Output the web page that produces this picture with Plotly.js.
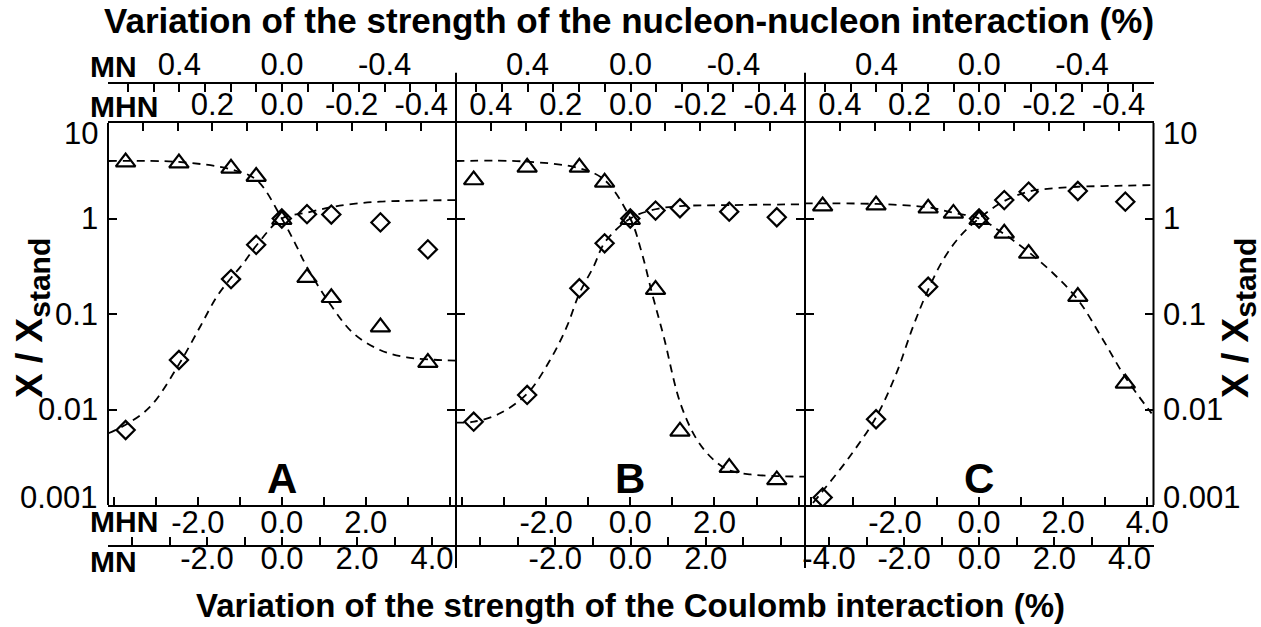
<!DOCTYPE html>
<html>
<head>
<meta charset="utf-8">
<script src="https://cdn.plot.ly/plotly-3.0.1.min.js"></script>
<style>html,body{margin:0;padding:0;background:#fff;}#chart{width:1261px;height:627px;}</style>
</head>
<body>
<div id="chart"></div>
<script>
// ---------------- DATA ----------------
// x positions of computed points, in units of the bottom "MHN" Coulomb axis (%)
const xPts = [-3.72, -2.45, -1.21, -0.61, 0, 0.6, 1.18, 2.35, 3.48];

// Panel A
const triA = [3.9, 3.8, 3.35, 2.75, 0.97, 0.24, 0.148, 0.073, 0.031];
const diaA = [0.0061, 0.033, 0.232, 0.53, 1.0, 1.11, 1.1, 0.91, 0.475];
const fitTriAx = [-4.13, -2.46, -1.21, -0.6, 0, 0.317, 0.595, 1.167, 1.705, 2.34, 2.976, 4.15];
const fitTriAy = [4.0, 3.91, 3.27, 2.53, 1.0, 0.55, 0.313, 0.124, 0.0628, 0.042, 0.0352, 0.0325];
const fitDiaAx = [-4.13, -3.73, -3.136, -2.46, -1.945, -1.548, -1.214, -0.914, -0.595, 0, 0.595, 1.167, 1.705, 2.34, 4.15];
const fitDiaAy = [0.00564, 0.00689, 0.0107, 0.0292, 0.0736, 0.152, 0.237, 0.34, 0.528, 1.0, 1.15, 1.31, 1.42, 1.5, 1.56];

// Panel B
const triB = [2.53, 3.43, 3.43, 2.39, 0.97, 0.18, 0.0059, 0.00246, 0.00183];
const diaB = [0.00745, 0.0142, 0.186, 0.55, 1.0, 1.21, 1.28, 1.18, 1.03];
const fitTriBx = [-4.14, -2.44, -1.2, -0.61, 0, 0.278, 0.516, 0.794, 1.19, 1.587, 1.984, 2.34, 2.857, 3.49, 4.14];
const fitTriBy = [4.0, 3.94, 3.35, 2.53, 1.0, 0.43, 0.165, 0.058, 0.0116, 0.0048, 0.00296, 0.00232, 0.00209, 0.00201, 0.00198];
const fitDiaBx = [-4.14, -3.71, -3.095, -2.44, -1.905, -1.508, -1.207, -0.873, -0.595, 0, 0.595, 1.19, 2.34, 4.14];
const fitDiaBy = [0.00728, 0.00745, 0.00912, 0.0148, 0.033, 0.0736, 0.165, 0.313, 0.571, 1.0, 1.25, 1.35, 1.38, 1.41];

// Panel C
const triC = [1.35, 1.38, 1.28, 1.13, 0.97, 0.70, 0.43, 0.152, 0.0188];
const xDiaC = [-3.72, -2.45, -1.21, 0, 0.6, 1.18, 2.35, 3.48];
const diaC = [0.0012, 0.0079, 0.193, 1.0, 1.56, 1.91, 1.94, 1.5];
const fitTriCx = [-4.15, -3.73, -2.44, -1.214, -0.62, 0, 0.571, 1.167, 1.762, 2.357, 2.952, 3.469, 4.105];
const fitTriCy = [1.44, 1.44, 1.42, 1.31, 1.15, 1.0, 0.70, 0.45, 0.267, 0.140, 0.0535, 0.0221, 0.0091];
const fitDiaCx = [-3.95, -3.73, -3.079, -2.443, -1.967, -1.571, -1.214, -0.857, -0.46, 0, 0.571, 1.167, 1.762, 2.357, 3.27, 4.15];
const fitDiaCy = [0.00105, 0.00138, 0.0032, 0.0084, 0.0239, 0.0736, 0.178, 0.367, 0.645, 1.0, 1.5, 1.91, 2.07, 2.15, 2.2, 2.24];

// Tick labels
const yTickVals = [0.001, 0.01, 0.1, 1, 10];
const yTickText = ['0.001', '0.01', '0.1', '1', '10'];
const botTickVals = [-4, -3, -2, -1, 0, 1, 2, 3, 4];
const mhnBotText = {
  A: ['', '', '-2.0', '', '0.0', '', '2.0', '', ''],
  B: ['', '', '-2.0', '', '0.0', '', '2.0', '', ''],
  C: ['', '', '-2.0', '', '0.0', '', '2.0', '', '4.0']
};
const mnBotText = {
  A: ['', '', '-2.0', '', '0.0', '', '2.0', '', '4.0'],
  B: ['', '', '-2.0', '', '0.0', '', '2.0', '', ''],
  C: ['-4.0', '', '-2.0', '', '0.0', '', '2.0', '', '4.0']
};
const mhnTopVals = [0.5, 0.4, 0.3, 0.2, 0.1, 0, -0.1, -0.2, -0.3, -0.4, -0.5];
const mhnTopText = {
  A: ['', '', '', '0.2', '', '0.0', '', '-0.2', '', '-0.4', ''],
  B: ['', '0.4', '', '0.2', '', '0.0', '', '-0.2', '', '-0.4', ''],
  C: ['', '0.4', '', '0.2', '', '0.0', '', '-0.2', '', '-0.4', '']
};
const mnTopVals = [0.6, 0.5, 0.4, 0.3, 0.2, 0.1, 0, -0.1, -0.2, -0.3, -0.4, -0.5, -0.6];
const mnTopText = ['', '', '0.4', '', '', '', '0.0', '', '', '', '-0.4', '', ''];

// ---------------- LAYOUT ----------------
const W = 1261, H = 627;
const px = v => v / W;
const py = v => (H - v) / H;
const FONT = 'Liberation Sans, Arial, Helvetica, sans-serif';
const TF = {family: FONT, size: 31, color: '#000'};

const panels = [
  {key: 'A', dom: [px(108), px(456)], ids: [1, 2, 3, 4], y: 1},
  {key: 'B', dom: [px(456), px(805)], ids: [5, 6, 7, 8], y: 2},
  {key: 'C', dom: [px(805), px(1153.5)], ids: [9, 10, 11, 12], y: 3}
];
const yDom = [py(505), py(123)];

const layout = {
  width: W, height: H,
  margin: {l: 0, r: 0, t: 0, b: 0},
  paper_bgcolor: '#fff', plot_bgcolor: 'rgba(0,0,0,0)',
  showlegend: false,
  font: {family: FONT, color: '#000'},
  annotations: [], shapes: []
};
const axName = (c, i) => c + 'axis' + (i === 1 ? '' : i);
const axRef = (c, i) => c + (i === 1 ? '' : i);
const baseX = {
  showgrid: false, zeroline: false, showline: true, linecolor: '#000', linewidth: 2,
  ticks: 'inside', ticklen: 8, tickwidth: 2, tickcolor: '#000', tickfont: TF,
  tickmode: 'array', autorange: false, fixedrange: true
};

panels.forEach(p => {
  const [i1, i2, i3, i4] = p.ids;
  const yr = axRef('y', p.y);
  layout[axName('x', i1)] = Object.assign({}, baseX, {
    domain: p.dom, anchor: yr, side: 'bottom', range: [-4.14, 4.15],
    tickvals: botTickVals, ticktext: mhnBotText[p.key], ticklabelstandoff: -11
  });
  layout[axName('x', i2)] = Object.assign({}, baseX, {
    domain: p.dom, overlaying: axRef('x', i1), anchor: 'free', position: py(546), side: 'bottom',
    range: [-4.64, 4.64], tickvals: botTickVals, ticktext: mnBotText[p.key], ticklabelstandoff: -15
  });
  layout[axName('x', i3)] = Object.assign({}, baseX, {
    domain: p.dom, overlaying: axRef('x', i1), anchor: yr, side: 'top',
    range: [0.5, -0.5], tickvals: mhnTopVals, ticktext: mhnTopText[p.key], ticklabelstandoff: -6
  });
  layout[axName('x', i4)] = Object.assign({}, baseX, {
    domain: p.dom, overlaying: axRef('x', i1), anchor: 'free', position: py(82.7), side: 'top',
    range: [0.678, -0.678], tickvals: mnTopVals, ticktext: mnTopText, ticklabelstandoff: -6
  });
  layout[axName('y', p.y)] = {
    domain: yDom, anchor: axRef('x', i1), type: 'log', range: [-3, 1], autorange: false,
    showgrid: false, zeroline: false, showline: false,
    mirror: 'ticks', ticks: 'inside', ticklen: 9, tickwidth: 2, tickcolor: '#000',
    tickmode: 'array', tickvals: yTickVals, ticktext: yTickText, tickfont: TF,
    showticklabels: false, side: p.key === 'C' ? 'right' : 'left', fixedrange: true
  };
});

// ---------------- TRACES ----------------
const traces = [];
const dashLine = {color: '#000', width: 1.8, dash: '8px,6px', shape: 'spline', smoothing: 1};
function addPanel(p, tri, xDia, dia, ftx, fty, fdx, fdy) {
  const xr = axRef('x', p.ids[0]), yr = axRef('y', p.y);
  traces.push({x: ftx, y: fty, xaxis: xr, yaxis: yr, mode: 'lines', line: dashLine, hoverinfo: 'skip'});
  traces.push({x: fdx, y: fdy, xaxis: xr, yaxis: yr, mode: 'lines', line: dashLine, hoverinfo: 'skip'});
  traces.push({x: xPts, y: tri, xaxis: xr, yaxis: yr, mode: 'markers',
    marker: {symbol: 'triangle-up-open', size: 17, color: '#000', line: {width: 2.2, color: '#000'}}});
  traces.push({x: xDia, y: dia, xaxis: xr, yaxis: yr, mode: 'markers',
    marker: {symbol: 'diamond-open', size: 14, color: '#000', line: {width: 2.2, color: '#000'}}});
  [2, 3, 4].forEach(k => {
    traces.push({x: [null], y: [null], xaxis: axRef('x', p.ids[k - 1]), yaxis: yr, mode: 'markers', hoverinfo: 'skip'});
  });
}
addPanel(panels[0], triA, xPts, diaA, fitTriAx, fitTriAy, fitDiaAx, fitDiaAy);
addPanel(panels[1], triB, xPts, diaB, fitTriBx, fitTriBy, fitDiaBx, fitDiaBy);
addPanel(panels[2], triC, xDiaC, diaC, fitTriCx, fitTriCy, fitDiaCx, fitDiaCy);

// ---------------- FRAME LINES ----------------
const vline = (xv, ya, yb) => layout.shapes.push({type: 'line', xref: 'paper', yref: 'paper',
  x0: px(xv), x1: px(xv), y0: py(yb), y1: py(ya), line: {color: '#000', width: 2}, layer: 'above'});
vline(108, 123, 505);
vline(456, 72.7, 568);
vline(805, 72.7, 568);
vline(1153.5, 123, 505);

// ---------------- TEXT ----------------
const BF = s => ({family: FONT, size: s, color: '#000'});
const ann = (text, x, y, opts) => layout.annotations.push(Object.assign({
  text: text, xref: 'paper', yref: 'paper', x: px(x), y: py(y), showarrow: false,
  xanchor: 'center', yanchor: 'middle', font: BF(27)
}, opts || {}));

// y tick labels (end labels pulled inside the frame, as in the reference)
yTickVals.forEach((v, k) => {
  const shift = k === 0 ? 8 : (k === yTickVals.length - 1 ? -10 : 0);
  const common = {xref: 'paper', yref: 'y', y: Math.log10(v), yshift: shift, showarrow: false,
    yanchor: 'middle', font: TF, text: yTickText[k]};
  layout.annotations.push(Object.assign({}, common, {x: px(100), xanchor: 'right'}));
  layout.annotations.push(Object.assign({}, common, {yref: 'y3', x: px(1161), xanchor: 'left'}));
});

ann('<b>Variation of the strength of the nucleon-nucleon interaction (%)</b>', 629, 0,
  {font: BF(35), yanchor: 'top', borderpad: 0});
ann('<b>Variation of the strength of the Coulomb interaction (%)</b>', 630, 605, {font: BF(33)});
ann('<b>MN</b>', 88, 66, {xanchor: 'left', font: BF(30)});
ann('<b>MHN</b>', 88, 106, {xanchor: 'left', font: BF(30)});
ann('<b>MHN</b>', 88, 521, {xanchor: 'left', font: BF(30)});
ann('<b>MN</b>', 88, 561.7, {xanchor: 'left', font: BF(30)});
ann('<b>A</b>', 281.7, 478, {font: BF(42)});
ann('<b>B</b>', 630, 478, {font: BF(42)});
ann('<b>C</b>', 979.3, 478, {font: BF(42)});
const yTitle = '<b>X / X<sub><span style="font-size:30px">stand</span></sub></b>';
ann(yTitle, 32, 318, {textangle: -90, font: BF(37)});
ann(yTitle, 1238, 318, {textangle: -90, font: BF(37)});

Plotly.newPlot('chart', traces, layout, {staticPlot: true, displayModeBar: false});
</script>
</body>
</html>
